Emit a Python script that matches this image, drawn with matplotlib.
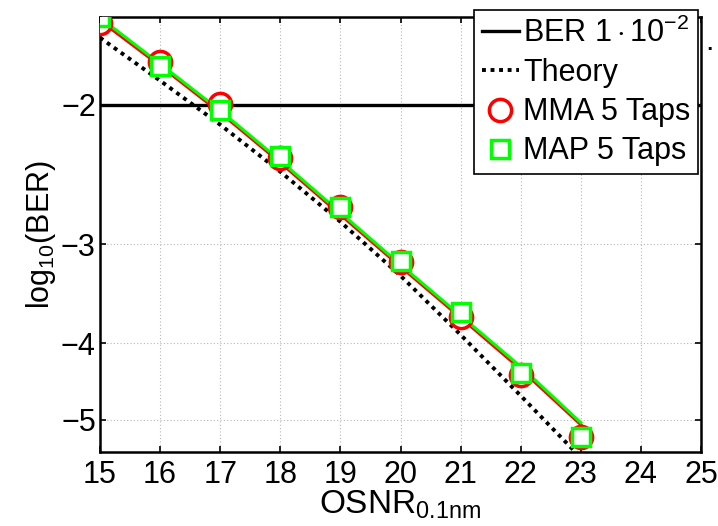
import numpy as np
import matplotlib
matplotlib.use("Agg")
import matplotlib.pyplot as plt

plt.rcParams['font.family'] = ['Liberation Sans', 'DejaVu Sans']
plt.rcParams['mathtext.fontset'] = 'custom'
plt.rcParams['mathtext.rm'] = 'Liberation Sans'
plt.rcParams['mathtext.it'] = 'Liberation Sans:italic'
plt.rcParams['mathtext.bf'] = 'Liberation Sans:bold'
plt.rcParams['axes.unicode_minus'] = True

# OSNR (dB, 0.1 nm reference bandwidth)
osnr = [15, 16, 17, 18, 19, 20, 21, 22, 23]

# measured log10(BER)
mma_5taps = [-1.576, -1.765, -1.994, -2.333, -2.694, -3.157, -3.704, -4.384, -5.251]
map_5taps = [-1.548, -1.786, -2.029, -2.320, -2.690, -3.150, -3.651, -4.365, -5.250]

# fitted curves through the measurements
mma_fit = [-1.566, -1.786, -2.047, -2.367, -2.754, -3.203, -3.715, -4.315, -5.071]
map_fit = [-1.553, -1.776, -2.035, -2.353, -2.737, -3.185, -3.693, -4.283, -5.042]

# theoretical log10(BER)
theory = [-1.646, -1.865, -2.120, -2.430, -2.811, -3.288, -3.904, -4.661, -5.581]

ber_threshold = -2.0
x_ticks = [15, 16, 17, 18, 19, 20, 21, 22, 23, 24, 25]
y_ticks = [-5, -4, -3, -2]


def fwd(v):
    v = np.asarray(v, dtype=float)
    return -np.log10(np.maximum(-v, 1e-12))


def inv(u):
    u = np.asarray(u, dtype=float)
    return -np.power(10.0, -u)


fig = plt.figure(figsize=(7.18, 5.26), dpi=100)
ax = fig.add_axes([100 / 718, 1 - 452 / 526, 601 / 718, 435 / 526])
ax.set_yscale('function', functions=(fwd, inv))

ax.plot([x_ticks[0], x_ticks[-1]], [ber_threshold, ber_threshold], '-', color='black',
        lw=2.4, label=r'BER $1\cdot10^{-2}$', zorder=3)
ax.plot(osnr, theory, color='black', lw=2.8, linestyle=(0, (1, 1.2)),
        label='Theory', zorder=4)
ax.plot(osnr, mma_fit, '-', color='#ff0000', lw=2.2, zorder=5)
ax.plot(osnr, map_fit, '-', color='#00ff00', lw=2.2, zorder=6)
ax.plot(osnr, mma_5taps, linestyle='none', marker='o', ms=16, mew=2.5,
        mec='#ff0000', mfc='white', label='MMA 5 Taps', zorder=7)
ax.plot(osnr, map_5taps, linestyle='none', marker='s', ms=13.5, mew=2.5,
        mec='#00ff00', mfc='white', label='MAP 5 Taps', zorder=8)

ax.set_xlim(15, 25)
ax.set_ylim(-5.49, -1.55)
ax.set_xticks(x_ticks)
ax.set_yticks(y_ticks)
ax.set_yticklabels(['\u22125', '\u22124', '\u22123', '\u22122'])
ax.yaxis.set_minor_locator(matplotlib.ticker.NullLocator())
ax.xaxis.set_minor_locator(matplotlib.ticker.NullLocator())

ax.grid(True, linestyle=(0, (1, 2)), color='#b8b8b8', lw=0.8)
ax.tick_params(direction='in', top=True, right=True, length=4, width=1.2,
               labelsize=22, pad=6)
ax.tick_params(axis='y', pad=3)
for s in ax.spines.values():
    s.set_linewidth(1.8)

ax.set_xlabel(r'OSNR$_{\mathrm{0.1nm}}$', fontsize=24, labelpad=-1)
ax.set_ylabel(r'log$_{\mathrm{10}}$(BER)', fontsize=22, labelpad=2)

leg = ax.legend(loc='upper right', bbox_to_anchor=(698 / 718, 1 - 10 / 526),
                bbox_transform=fig.transFigure, fontsize=22, frameon=True,
                fancybox=False, edgecolor='black', framealpha=1,
                handlelength=1.2, handletextpad=0.15, labelspacing=0.3,
                borderpad=0.25, borderaxespad=0)
leg.get_frame().set_linewidth(1.2)
leg.set_zorder(10)
fig.text(705 / 718, 1 - 50 / 526, '.', fontsize=22, ha='left', va='baseline')

fig.savefig('out.png', dpi=100)
